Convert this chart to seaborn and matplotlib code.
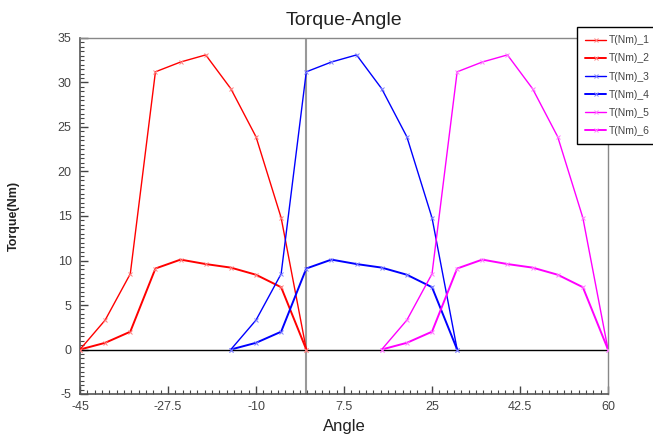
import numpy as np
import pandas as pd
import matplotlib
matplotlib.use("Agg")
import matplotlib.pyplot as plt
from matplotlib.ticker import AutoMinorLocator
import seaborn as sns

# ---- data ----
angle_a = [-45, -40, -35, -30, -25, -20, -15, -10, -5, 0]
angle_b = [-15, -10, -5, 0, 5, 10, 15, 20, 25, 30]
angle_c = [15, 20, 25, 30, 35, 40, 45, 50, 55, 60]
t1 = [0, 3.3, 8.5, 31.2, 32.3, 33.1, 29.3, 23.9, 14.8, 0]
t2 = [0, 0.75, 2.0, 9.1, 10.1, 9.6, 9.2, 8.4, 7.0, 0]
t3 = [0, 3.3, 8.5, 31.2, 32.3, 33.1, 29.3, 23.9, 14.8, 0]
t4 = [0, 0.75, 2.0, 9.1, 10.1, 9.6, 9.2, 8.4, 7.0, 0]
t5 = [0, 3.3, 8.5, 31.2, 32.3, 33.1, 29.3, 23.9, 14.8, 0]
t6 = [0, 0.75, 2.0, 9.1, 10.1, 9.6, 9.2, 8.4, 7.0, 0]
labels = ["T(Nm)_1", "T(Nm)_2", "T(Nm)_3", "T(Nm)_4", "T(Nm)_5", "T(Nm)_6"]
xticks = [-45, -27.5, -10, 7.5, 25, 42.5, 60]
xtick_labels = ["-45", "-27.5", "-10", "7.5", "25", "42.5", "60"]
yticks = [-5, 0, 5, 10, 15, 20, 25, 30, 35]

series = [(angle_a, t1), (angle_a, t2), (angle_b, t3), (angle_b, t4), (angle_c, t5), (angle_c, t6)]
frames = []
for lab, (a, t) in zip(labels, series):
    frames.append(pd.DataFrame({"Angle": a, "Torque": t, "series": lab}))
df = pd.concat(frames, ignore_index=True)

colors = ["#ff0000", "#ff0000", "#0000ff", "#0000ff", "#ff00ff", "#ff00ff"]
widths = [1.0, 1.4, 1.0, 1.4, 1.0, 1.4]

sns.set_style("white")
plt.rcParams["font.family"] = ["Liberation Sans", "DejaVu Sans"]
plt.rcParams["axes.unicode_minus"] = False

fig = plt.figure(figsize=(6.53, 4.45), dpi=100)
ax = fig.add_axes([80 / 653, 51 / 445, 528 / 653, 356 / 445])

ax.axhline(0, color="black", lw=1.0, zorder=1)
ax.axvline(0, color="#999999", lw=1.5, zorder=1)

for lab, c, w in zip(labels, colors, widths):
    sub = df[df["series"] == lab]
    light = matplotlib.colors.to_hex(np.array(matplotlib.colors.to_rgb(c)) * 0.5 + 0.5)
    sns.lineplot(data=sub, x="Angle", y="Torque", ax=ax, color=c, lw=w,
                 marker="x", markersize=3.5, markeredgewidth=0.7,
                 markeredgecolor=light, label=lab, sort=False, zorder=3)

ax.set_xlim(-45, 60)
ax.set_ylim(-5, 35)
ax.set_xticks(xticks)
ax.set_xticklabels(xtick_labels)
ax.set_yticks(yticks)
ax.xaxis.set_minor_locator(AutoMinorLocator(12))
ax.yaxis.set_minor_locator(AutoMinorLocator(10))
ax.tick_params(axis="both", which="major", direction="in", length=6, width=1,
               color="#444444", labelsize=9, labelcolor="#444444")
ax.tick_params(axis="both", which="minor", direction="in", length=3, width=0.8,
               color="#444444")
ax.tick_params(axis="x", which="both", bottom=True, top=False, pad=5)
ax.tick_params(axis="y", which="both", left=True, right=False, pad=6)

for s in ["left", "bottom"]:
    ax.spines[s].set_color("#555555")
    ax.spines[s].set_linewidth(1.2)
for s in ["top", "right"]:
    ax.spines[s].set_color("#888888")
    ax.spines[s].set_linewidth(1.0)

ax.set_title("Torque-Angle", fontsize=14, color="#222222", pad=9)
ax.set_xlabel("Angle", fontsize=12, color="#222222", labelpad=4)
ax.set_ylabel("Torque(Nm)", fontsize=9, fontweight="bold", color="#222222",
              labelpad=27)

leg = ax.legend(loc="upper left", bbox_to_anchor=(577 / 653, 1 - 27 / 445),
                bbox_transform=fig.transFigure, frameon=True, fancybox=False,
                fontsize=7.5, handlelength=2.0, handletextpad=0.3,
                borderpad=0.8, labelspacing=0.78, borderaxespad=0)
leg.get_frame().set_edgecolor("black")
leg.get_frame().set_linewidth(1.0)
leg.get_frame().set_alpha(1)
for t in leg.get_texts():
    t.set_color("#444444")

fig.savefig("out.png", dpi=100)
